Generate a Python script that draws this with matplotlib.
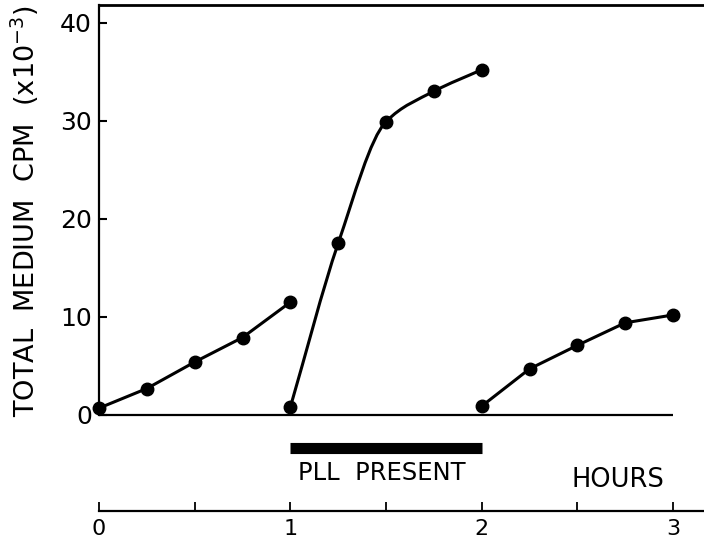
import numpy as np
import matplotlib
matplotlib.use("Agg")
import matplotlib.pyplot as plt
from matplotlib.path import Path
from matplotlib.patches import PathPatch

# values (hours, cpm x 10^-3)
hours_a = [0.0, 0.25, 0.5, 0.75, 1.0]
cpm_a = [0.7, 2.7, 5.4, 7.9, 11.5]

hours_b = [1.0, 1.25, 1.5, 1.75, 2.0]
cpm_b = [0.8, 17.5, 29.9, 33.0, 35.2]

hours_c = [2.0, 2.25, 2.5, 2.75, 3.0]
cpm_c = [0.9, 4.7, 7.1, 9.4, 10.2]

pll_start, pll_end = 1.0, 2.0
y_ticks = [0, 10, 20, 30, 40]
x_major = [0, 1, 2, 3]
x_minor = [0.5, 1.5, 2.5]

NARROW = ["Liberation Sans Narrow", "DejaVu Sans"]


# smooth line through the points: monotone cubic (pchip-style) drawn as bezier path
def smooth_path(xs, ys):
    x = np.asarray(xs, float)
    y = np.asarray(ys, float)
    h = np.diff(x)
    d = np.diff(y) / h
    m = np.zeros_like(y)
    m[0], m[-1] = d[0], d[-1]
    for i in range(1, len(y) - 1):
        if d[i - 1] * d[i] > 0:
            m[i] = 2 * d[i - 1] * d[i] / (d[i - 1] + d[i])
    verts = [(x[0], y[0])]
    codes = [Path.MOVETO]
    for i in range(len(x) - 1):
        verts += [(x[i] + h[i] / 3, y[i] + m[i] * h[i] / 3),
                  (x[i + 1] - h[i] / 3, y[i + 1] - m[i + 1] * h[i] / 3),
                  (x[i + 1], y[i + 1])]
        codes += [Path.CURVE4] * 3
    return Path(verts, codes)


fig = plt.figure(figsize=(7.04, 5.42), dpi=100)
ax = fig.add_axes([99 / 704, 127 / 542, 605 / 704, 410 / 542])

ax.set_xlim(0, 3.162)
ax.set_ylim(0, 41.8)

# first and last runs are nearly straight, the middle one is a smooth curve
ax.plot(hours_a, cpm_a, "-", color="black", lw=2.2)
ax.add_patch(PathPatch(smooth_path(hours_b, cpm_b), fill=False, lw=2.2,
                       edgecolor="black", capstyle="round"))
ax.plot(hours_c, cpm_c, "-", color="black", lw=2.2)
for xs, ys in [(hours_a, cpm_a), (hours_b, cpm_b), (hours_c, cpm_c)]:
    ax.plot(xs, ys, "o", color="black", ms=9, clip_on=False, zorder=3)

# zero baseline
ax.hlines(0, 0, max(hours_c), color="black", lw=1.6, clip_on=False)

# PLL bar and labels below the plot
ax.hlines(-3.4, pll_start, pll_end, color="black", lw=8, clip_on=False)
ax.text((pll_start + pll_end) / 2 - 0.02, -5.9, "PLL  PRESENT", ha="center",
        va="center", fontsize=17.5, family=NARROW)
ax.text(2.71, -6.6, "HOURS", ha="center", va="center", fontsize=18.5,
        family=NARROW)

ax.spines["right"].set_visible(False)
ax.spines["top"].set_linewidth(2)
ax.spines["left"].set_linewidth(1.6)
ax.spines["bottom"].set_linewidth(1.6)
ax.spines["bottom"].set_position(("outward", 69))

ax.set_yticks(y_ticks)
ax.set_yticklabels([str(v) for v in y_ticks])
ax.set_xticks(x_major)
ax.set_xticklabels([str(v) for v in x_major])
ax.set_xticks(x_minor, minor=True)
ax.tick_params(axis="y", direction="in", length=6, width=1.5, pad=5, labelsize=18)
ax.tick_params(axis="x", which="both", direction="in", length=6.5, width=1.3,
               pad=6, labelsize=16)

fig.text(25 / 704, 1 - 211 / 542, "TOTAL  MEDIUM  CPM  (x10$^{-3}$)", rotation=90,
         ha="center", va="center", fontsize=19.5)

fig.savefig("out.png", dpi=100)
